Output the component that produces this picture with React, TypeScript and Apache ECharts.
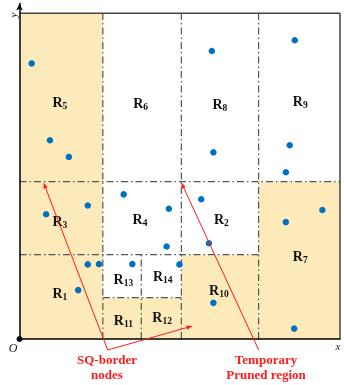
import React, { useEffect, useRef } from "react";
import * as echarts from "echarts";

// Data points (x, y) in plane units (0..100)
const pointsX: number[] = [3.8, 9.5, 15.4, 60.0, 60.5, 85.9, 84.3, 83.1, 8.3, 21.3, 32.5, 46.6, 45.9, 21.3, 24.8, 35.2, 18.3, 56.7, 59.1, 49.9, 60.5, 83.1, 94.5, 85.7];
const pointsY: number[] = [84.6, 61.0, 55.9, 88.4, 57.3, 91.7, 59.5, 51.2, 38.3, 41.0, 44.4, 40.0, 28.4, 22.9, 23.0, 23.0, 15.0, 42.9, 29.4, 22.9, 11.1, 35.9, 39.6, 3.2];

// Shaded (pruned) regions: [xMin, xMax, yMin, yMax]
const shadedRegions: number[][] = [
  [0, 26, 0, 100],
  [26, 50.5, 0, 12.7],
  [50.5, 74.6, 0, 25.9],
  [74.6, 100, 0, 48.3],
];

// Dash-dot partition lines: [x1, y1, x2, y2]
const dividers: number[][] = [
  [0, 48.3, 100, 48.3],
  [0, 25.9, 74.6, 25.9],
  [26, 12.7, 50.5, 12.7],
  [26, 0, 26, 100],
  [38, 0, 38, 25.9],
  [50.5, 0, 50.5, 100],
  [74.6, 0, 74.6, 100],
];

// Outer frame (solid)
const frame: number[][] = [
  [0, 100, 100, 100],
  [100, 0, 100, 100],
];

// Region labels
const regionIds: string[] = ["5", "6", "8", "9", "3", "4", "2", "7", "1", "13", "14", "11", "12", "10"];
const regionX: number[] = [12.6, 37.8, 62.5, 87.6, 12.6, 37.6, 63.0, 87.6, 12.6, 32.4, 44.7, 32.4, 44.5, 62.2];
const regionY: number[] = [72.7, 72.2, 72.1, 72.9, 36.2, 36.7, 36.8, 25.2, 13.9, 18.3, 19.1, 5.8, 6.5, 15.0];

const SERIF = '"Liberation Serif", "Times New Roman", serif';
const RED = "#ff1a1a";

function arrow(from: number[], to: number[], len = 6, half = 2.2) {
  const dx = to[0] - from[0];
  const dy = to[1] - from[1];
  const L = Math.hypot(dx, dy);
  const ux = dx / L, uy = dy / L;
  const nx = -uy, ny = ux;
  const bx = to[0] - ux * len, by = to[1] - uy * len;
  return {
    base: [bx, by],
    poly: [
      [to[0], to[1]],
      [bx + nx * half, by + ny * half],
      [bx - nx * half, by - ny * half],
    ],
  };
}

export default function App() {
  const ref = useRef<HTMLDivElement>(null);

  useEffect(() => {
    document.body.style.margin = "0";
    const chart = echarts.init(ref.current!, null, { renderer: "svg" });

    const segRender = (color: string, dash: any, width: number) => (params: any, api: any) => {
      const p1 = api.coord([api.value(0), api.value(1)]);
      const p2 = api.coord([api.value(2), api.value(3)]);
      return {
        type: "line",
        shape: { x1: p1[0], y1: p1[1], x2: p2[0], y2: p2[1] },
        style: { stroke: color, lineWidth: width, lineDash: dash, fill: null },
      };
    };

    const sq = { vertex: [107.7, 350], tips: [[43.5, 182.5], [192.5, 326]] };
    const tp = { vertex: [258.7, 350], tips: [[181.3, 182.5]] };
    const annoGraphics: any[] = [];
    [sq, tp].forEach((a) => {
      a.tips.forEach((t) => {
        const ah = arrow(a.vertex, t);
        annoGraphics.push({
          type: "line",
          shape: { x1: a.vertex[0], y1: a.vertex[1], x2: ah.base[0], y2: ah.base[1] },
          style: { stroke: RED, lineWidth: 1 },
          z: 100,
        });
        annoGraphics.push({
          type: "polygon",
          shape: { points: ah.poly },
          style: { fill: RED },
          z: 100,
        });
      });
    });

    const option: any = {
      animation: false,
      grid: { left: 19.5, right: 4, top: 3.5, bottom: 46 },
      xAxis: {
        type: "value",
        min: 0,
        max: 100,
        z: 10,
        axisLine: { show: true, onZero: false, lineStyle: { color: "#000", width: 1.5 } },
        axisTick: { show: false },
        axisLabel: { show: false },
        splitLine: { show: false },
      },
      yAxis: {
        type: "value",
        min: 0,
        max: 103,
        z: 10,
        axisLine: {
          show: true,
          onZero: false,
          symbol: ["none", "arrow"],
          symbolSize: [5, 7],
          lineStyle: { color: "#000", width: 1.5 },
        },
        axisTick: { show: false },
        axisLabel: { show: false },
        splitLine: { show: false },
      },
      series: [
        {
          type: "custom",
          z: 1,
          data: shadedRegions,
          renderItem: (params: any, api: any) => {
            const p1 = api.coord([api.value(0), api.value(3)]);
            const p2 = api.coord([api.value(1), api.value(2)]);
            return {
              type: "rect",
              shape: { x: p1[0], y: p1[1], width: p2[0] - p1[0], height: p2[1] - p1[1] },
              style: { fill: "#fdeabb" },
            };
          },
        },
        {
          type: "custom",
          z: 2,
          data: dividers,
          renderItem: segRender("#555", [7, 3, 1.5, 3], 1.2),
        },
        {
          type: "custom",
          z: 2,
          data: frame,
          renderItem: segRender("#444", null, 1.5),
        },
        {
          type: "scatter",
          z: 3,
          symbol: "circle",
          symbolSize: 6.5,
          itemStyle: { color: "#0070c0", opacity: 1 },
          data: pointsX.map((x, i) => [x, pointsY[i]]),
        },
        {
          type: "custom",
          z: 4,
          data: regionIds.map((id, i) => [regionX[i], regionY[i], i]),
          renderItem: (params: any, api: any) => {
            const p = api.coord([api.value(0), api.value(1)]);
            const id = regionIds[api.value(2)];
            return {
              type: "text",
              x: p[0],
              y: p[1],
              style: {
                text: `{r|R}{s|${id}}`,
                align: "center",
                verticalAlign: "middle",
                rich: {
                  r: { fontSize: 14, fontWeight: "bold", fontFamily: SERIF, fill: "#111" },
                  s: { fontSize: 9.5, fontWeight: "bold", fontFamily: SERIF, fill: "#111", padding: [7, 0, 0, 0] },
                },
              },
            };
          },
        },
      ],
      graphic: [
        ...annoGraphics,
        { type: "circle", shape: { cx: 19.5, cy: 339, r: 3 }, style: { fill: "#000" }, z: 100 },
        {
          type: "text",
          x: 13,
          y: 348,
          style: { text: "O", fontSize: 12, fontStyle: "italic", fontFamily: SERIF, fill: "#222", align: "center", verticalAlign: "middle" },
          z: 100,
        },
        {
          type: "text",
          x: 338,
          y: 346,
          style: { text: "x", fontSize: 11, fontStyle: "italic", fontFamily: SERIF, fill: "#222", align: "center", verticalAlign: "middle" },
          z: 100,
        },
        {
          type: "text",
          x: 13,
          y: 15,
          rotation: Math.PI / 2,
          style: { text: "y", fontSize: 11, fontStyle: "italic", fontFamily: SERIF, fill: "#222", align: "center", verticalAlign: "middle" },
          z: 100,
        },
        {
          type: "text",
          x: 107,
          y: 352,
          style: {
            text: "SQ-border\nnodes",
            fontSize: 13,
            fontWeight: "bold",
            fontFamily: SERIF,
            fill: RED,
            align: "center",
            verticalAlign: "top",
            lineHeight: 15,
          },
          z: 100,
        },
        {
          type: "text",
          x: 266,
          y: 352,
          style: {
            text: "Temporary\nPruned region",
            fontSize: 13,
            fontWeight: "bold",
            fontFamily: SERIF,
            fill: RED,
            align: "center",
            verticalAlign: "top",
            lineHeight: 15,
          },
          z: 100,
        },
      ],
    };

    chart.setOption(option);
    return () => chart.dispose();
  }, []);

  return <div ref={ref} style={{ position: "fixed", left: 0, top: 0, width: 344, height: 385 }} />;
}
